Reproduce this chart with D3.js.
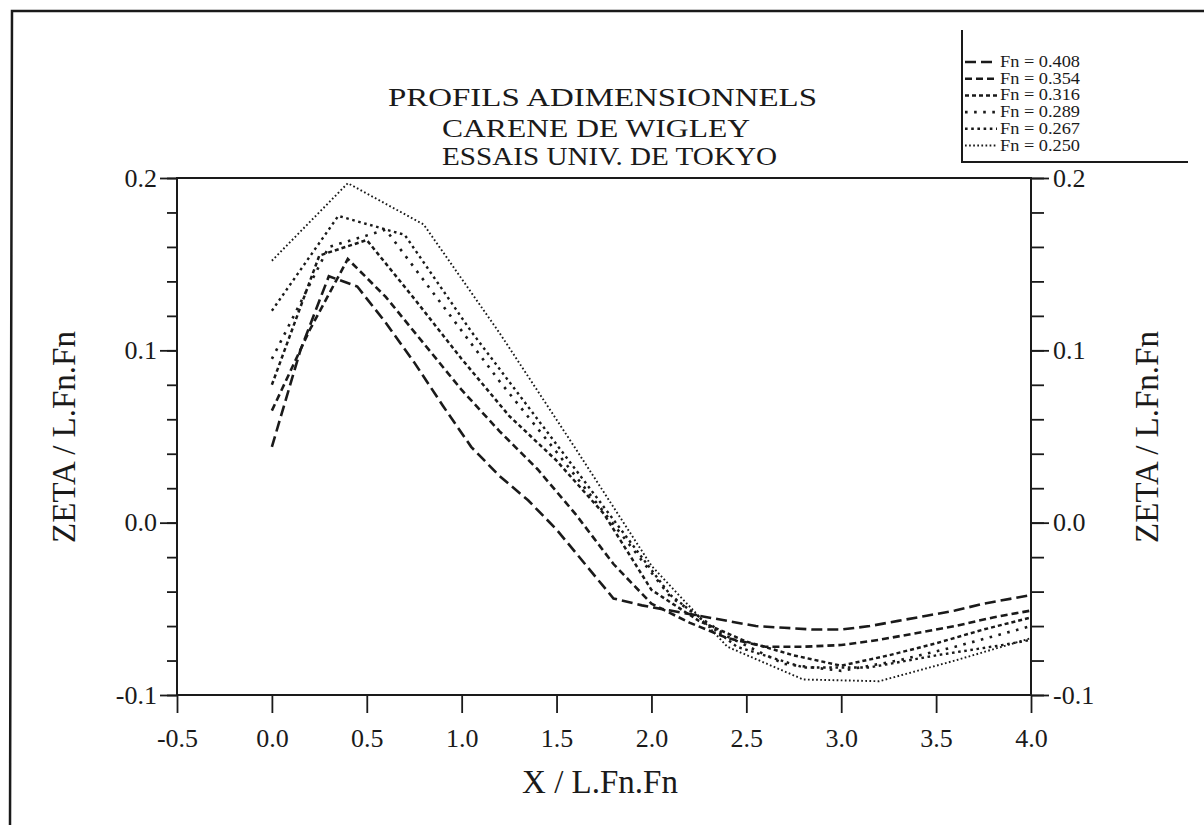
<!DOCTYPE html>
<html>
<head>
<meta charset="utf-8">
<script src="https://cdn.jsdelivr.net/npm/d3@7"></script>
<style>
  body { margin: 0; background: #fff; }
  svg { display: block; font-family: "Liberation Serif", "Times New Roman", serif; }
</style>
</head>
<body>
<svg width="1204" height="825"></svg>
<script>
// values
var fnNames = ["Fn = 0.408", "Fn = 0.354", "Fn = 0.316", "Fn = 0.289", "Fn = 0.267", "Fn = 0.250"];

var fn408 = [[0,0.044],[0.15,0.100],[0.30,0.143],[0.45,0.137],[0.60,0.116],[0.75,0.093],[0.90,0.068],
  [1.05,0.044],[1.20,0.027],[1.35,0.013],[1.50,-0.004],[1.65,-0.024],[1.80,-0.044],[1.95,-0.048],
  [2.10,-0.051],[2.25,-0.054],[2.40,-0.057],[2.55,-0.060],[2.70,-0.061],[2.85,-0.062],[3.00,-0.062],
  [3.15,-0.060],[3.30,-0.057],[3.45,-0.054],[3.60,-0.051],[3.75,-0.047],[3.90,-0.044],[4.00,-0.042]];
var fn354 = [[0,0.065],[0.2,0.112],[0.4,0.153],[0.6,0.131],[0.8,0.104],[1.0,0.077],[1.2,0.053],
  [1.4,0.031],[1.6,0.005],[1.8,-0.024],[2.0,-0.047],[2.2,-0.058],[2.4,-0.067],[2.6,-0.072],
  [2.8,-0.072],[3.0,-0.071],[3.2,-0.068],[3.4,-0.064],[3.6,-0.060],[3.8,-0.055],[4.0,-0.051]];
var fn316 = [[0,0.080],[0.25,0.155],[0.5,0.164],[0.75,0.130],[1.0,0.095],[1.25,0.062],[1.5,0.036],
  [1.75,0.005],[2.0,-0.039],[2.25,-0.057],[2.5,-0.069],[2.75,-0.077],[3.0,-0.083],[3.25,-0.077],
  [3.5,-0.070],[3.75,-0.062],[4.0,-0.055]];
var fn289 = [[0,0.095],[0.3,0.160],[0.6,0.170],[0.9,0.126],[1.2,0.082],[1.5,0.041],[1.8,-0.001],
  [2.1,-0.043],[2.4,-0.066],[2.7,-0.082],[3.0,-0.086],[3.3,-0.080],[3.6,-0.072],[3.9,-0.063],[4.0,-0.060]];
var fn267 = [[0,0.123],[0.35,0.178],[0.70,0.167],[1.05,0.111],[1.40,0.060],[1.75,0.009],[2.10,-0.042],
  [2.45,-0.072],[2.80,-0.084],[3.15,-0.084],[3.50,-0.077],[3.85,-0.071],[4.0,-0.068]];
var fn250 = [[0,0.152],[0.4,0.197],[0.8,0.173],[1.2,0.110],[1.6,0.043],[2.0,-0.025],[2.4,-0.072],
  [2.8,-0.091],[3.2,-0.092],[3.6,-0.080],[4.0,-0.067]];

var xTicks = [-0.5, 0.0, 0.5, 1.0, 1.5, 2.0, 2.5, 3.0, 3.5, 4.0];
var yTicks = [-0.1, 0.0, 0.1, 0.2];
var titleLines = ["PROFILS ADIMENSIONNELS", "CARENE DE WIGLEY", "ESSAIS UNIV. DE TOKYO"];
var xTitle = "X / L.Fn.Fn";
var yTitle = "ZETA / L.Fn.Fn";

var series = [fn408, fn354, fn316, fn289, fn267, fn250];

// line looks, same order as fnNames
var dashes = ["11,5", "7,4", "4,3", "2.6,6.5", "2.6,3.6", "1.7,2.4"];
var widths = [2.6, 2.6, 2.5, 2.6, 2.4, 1.9];
var ink = "#1a1a1a";
var serif = '"Liberation Serif", "Times New Roman", serif';

var svg = d3.select("svg");

var x = d3.scaleLinear().domain([-0.5, 4.0]).range([177, 1031]);
var y = d3.scaleLinear().domain([-0.1, 0.2]).range([695, 178]);
var fmt = function(d) { return d.toFixed(1); };

// page frame of the scan
svg.append("path")
    .attr("d", "M10,825 L12,11 L1204,11")
    .attr("fill", "none")
    .attr("stroke", ink)
    .attr("stroke-width", 2.5);

// title
var tPos = [[388, 106, 429], [442, 137, 308], [442, 165, 335]];
svg.append("g")
    .selectAll("text")
    .data(titleLines)
    .join("text")
    .attr("x", (d, i) => tPos[i][0])
    .attr("y", (d, i) => tPos[i][1])
    .attr("textLength", (d, i) => tPos[i][2])
    .attr("lengthAdjust", "spacingAndGlyphs")
    .attr("font-size", 25)
    .attr("fill", ink)
    .text(d => d);

// axes
function styleAxis(g) {
    g.attr("font-family", serif);
    g.select(".domain").remove();
    g.selectAll("line").attr("stroke", ink).attr("stroke-width", 1.8);
    g.selectAll("text").attr("font-size", 26).attr("fill", ink);
}

svg.append("g")
    .attr("transform", "translate(0,695)")
    .call(d3.axisBottom(x).tickValues(xTicks).tickSize(18).tickPadding(16).tickFormat(fmt))
    .call(styleAxis);

svg.append("g")
    .attr("transform", "translate(177,0)")
    .call(d3.axisLeft(y).tickValues(y.ticks(15)).tickSize(10).tickFormat(""))
    .call(styleAxis);
svg.append("g")
    .attr("transform", "translate(177,0)")
    .call(d3.axisLeft(y).tickValues(yTicks).tickSize(17).tickPadding(3).tickFormat(fmt))
    .call(styleAxis);

svg.append("g")
    .attr("transform", "translate(1031,0)")
    .call(d3.axisRight(y).tickValues(y.ticks(15)).tickSize(13).tickFormat(""))
    .call(styleAxis);
svg.append("g")
    .attr("transform", "translate(1031,0)")
    .call(d3.axisRight(y).tickValues(yTicks).tickSize(18).tickPadding(4).tickFormat(fmt))
    .call(styleAxis);

svg.append("rect")
    .attr("x", 177).attr("y", 178)
    .attr("width", 1031 - 177).attr("height", 695 - 178)
    .attr("fill", "none")
    .attr("stroke", ink)
    .attr("stroke-width", 2);

// axis titles
svg.append("text")
    .attr("x", 600).attr("y", 793)
    .attr("text-anchor", "middle")
    .attr("font-size", 33)
    .attr("fill", ink)
    .text(xTitle);

svg.append("text")
    .attr("transform", "translate(75,437) rotate(-90)")
    .attr("text-anchor", "middle")
    .attr("font-size", 33)
    .attr("fill", ink)
    .text(yTitle);

svg.append("text")
    .attr("transform", "translate(1158,437) rotate(-90)")
    .attr("text-anchor", "middle")
    .attr("font-size", 33)
    .attr("fill", ink)
    .text(yTitle);

// curves
var line = d3.line()
    .x(d => x(d[0]))
    .y(d => y(d[1]));

svg.append("g")
    .selectAll("path")
    .data(series)
    .join("path")
    .attr("d", line)
    .attr("fill", "none")
    .attr("stroke", ink)
    .attr("stroke-width", (d, i) => widths[i])
    .attr("stroke-dasharray", (d, i) => dashes[i]);

// legend box (top right)
var leg = svg.append("g");
leg.append("path")
    .attr("d", "M962,30 L962,162 L1188,162")
    .attr("fill", "none")
    .attr("stroke", ink)
    .attr("stroke-width", 2);

var row = leg.selectAll("g.row")
    .data(fnNames)
    .join("g")
    .attr("class", "row")
    .attr("transform", (d, i) => "translate(0," + (67 + i * 16.7) + ")");

row.append("line")
    .attr("x1", 965).attr("x2", 997)
    .attr("y1", -5).attr("y2", -5)
    .attr("stroke", ink)
    .attr("stroke-width", (d, i) => widths[i])
    .attr("stroke-dasharray", (d, i) => dashes[i]);

row.append("text")
    .attr("x", 1000)
    .attr("textLength", 80)
    .attr("lengthAdjust", "spacingAndGlyphs")
    .attr("font-size", 16)
    .attr("fill", ink)
    .text(d => d);
</script>
</body>
</html>
